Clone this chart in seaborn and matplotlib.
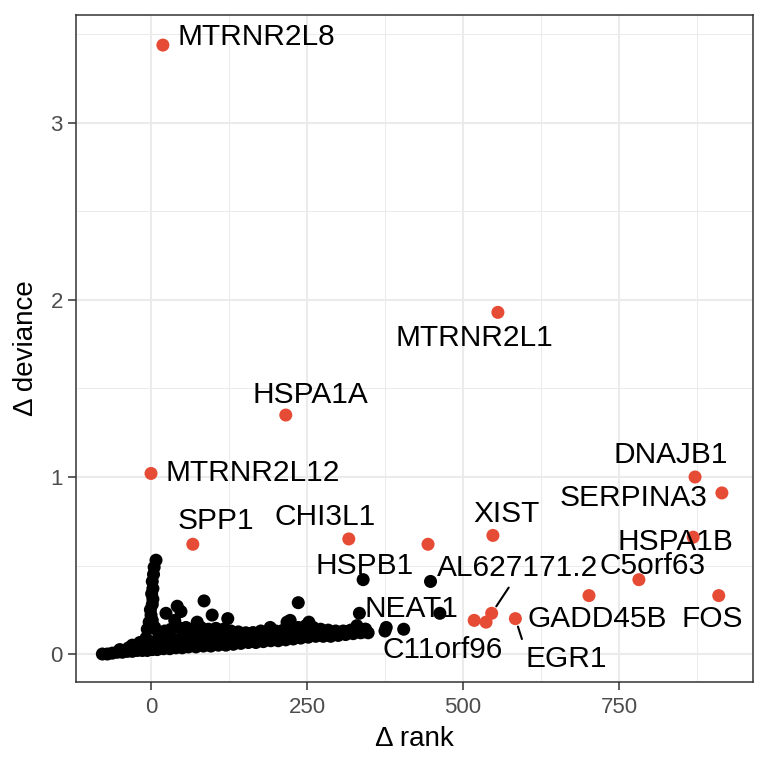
import numpy as np
import pandas as pd
import matplotlib
matplotlib.use('Agg')
import matplotlib.pyplot as plt
import matplotlib.ticker as mticker
import seaborn as sns

# --- data: background genes (black cloud) ---
row_a_x = [-78, -70, -62, -54, -46, -38, -30, -22, -14, -6, 2, 10, 20, 30, 40, 50, 60, 72, 84, 96,
           108, 120, 132, 144, 156, 168, 180, 192, 204, 216, 228, 240, 252, 264, 276, 288, 300, 312,
           324, 336, 348]
row_a_y = [0.00, 0.00, 0.005, 0.01, 0.01, 0.015, 0.015, 0.02, 0.02, 0.02, 0.025, 0.025, 0.03, 0.03,
           0.035, 0.035, 0.04, 0.04, 0.045, 0.045, 0.05, 0.05, 0.055, 0.06, 0.065, 0.065, 0.07, 0.075,
           0.075, 0.08, 0.085, 0.09, 0.095, 0.10, 0.10, 0.10, 0.105, 0.11, 0.115, 0.12, 0.12]

row_b_x = [-50, -36, -22, -8, 6, 20, 34, 48, 62, 76, 90, 104, 118, 132, 146, 160, 174, 188, 202, 216,
           230, 244, 258, 272, 286, 300, 314, 328]
row_b_y = [0.025, 0.035, 0.05, 0.06, 0.07, 0.08, 0.085, 0.09, 0.09, 0.09, 0.09, 0.09, 0.09, 0.09,
           0.095, 0.095, 0.10, 0.10, 0.105, 0.11, 0.115, 0.125, 0.13, 0.125, 0.12, 0.12, 0.125, 0.13]

row_c_x = [-30, -18, -8, 12, 22, 32, 44, 56, 68, 80, 92, 104, 116, 128, 140, 152, 164, 176, 188, 200,
           212, 224, 236, 248, 260, 272, 284, 296, 308, 320, 332, 344]
row_c_y = [0.05, 0.065, 0.09, 0.12, 0.13, 0.14, 0.15, 0.15, 0.14, 0.15, 0.14, 0.145, 0.14, 0.13, 0.125,
           0.12, 0.12, 0.13, 0.13, 0.13, 0.135, 0.14, 0.15, 0.16, 0.15, 0.14, 0.135, 0.13, 0.13, 0.135,
           0.14, 0.14]

row_d_x = [-20, -5, 10, 25, 40, 55, 70, 85, 100, 115, 130, 145, 160, 175, 190, 205, 220, 235, 250, 265,
           280, 295, 310, 325, 340]
row_d_y = [0.035, 0.045, 0.05, 0.055, 0.06, 0.06, 0.065, 0.065, 0.07, 0.07, 0.075, 0.08, 0.085, 0.09,
           0.09, 0.095, 0.10, 0.105, 0.11, 0.115, 0.11, 0.11, 0.115, 0.12, 0.125]

spike_x = [-6, 6, -3, 2, 0, -1, 2, 3, 1, 3, 2, 4, 5, 8]
spike_y = [0.14, 0.15, 0.18, 0.19, 0.22, 0.25, 0.28, 0.31, 0.34, 0.37, 0.41, 0.45, 0.49, 0.53]

out_x = [85, 42, 48, 24, 38, 98, 74, 123, 163, 191, 218, 236, 223, 253, 330, 343, 375, 377, 405, 340,
         448, 334, 463]
out_y = [0.30, 0.27, 0.24, 0.23, 0.19, 0.22, 0.18, 0.20, 0.12, 0.15, 0.18, 0.29, 0.19, 0.18, 0.16,
         0.14, 0.13, 0.15, 0.14, 0.42, 0.41, 0.23, 0.23]

# --- highlighted genes (red) ---
red_x = [19, 556, 216, 0, 67, 317, 444, 548, 518, 537, 546, 584, 702, 782, 869, 872, 915, 910]
red_y = [3.44, 1.93, 1.35, 1.02, 0.62, 0.65, 0.62, 0.67, 0.19, 0.18, 0.23, 0.20, 0.33, 0.42, 0.66,
         1.00, 0.91, 0.33]

# --- gene labels and where the repel step put them ---
lab_names = ['MTRNR2L8', 'MTRNR2L1', 'HSPA1A', 'MTRNR2L12', 'SPP1', 'CHI3L1', 'HSPB1', 'NEAT1',
             'C11orf96', 'AL627171.2', 'XIST', 'GADD45B', 'EGR1', 'FOS', 'C5orf63', 'HSPA1B',
             'SERPINA3', 'DNAJB1']
lab_x = [168, 519, 255, 163, 104, 279, 343, 418, 468, 587, 569, 716, 665, 899, 804, 841, 774, 833]
lab_y = [3.486, 1.785, 1.463, 1.023, 0.751, 0.774, 0.497, 0.254, 0.023, 0.486, 0.791, 0.198, -0.028,
         0.198, 0.497, 0.633, 0.881, 1.124]

# labels joined to their point by a segment: name -> (point x, point y, anchor on text box)
seg_labels = {'AL627171.2': (546, 0.23, (0.47, 0.0)),
              'EGR1': (584, 0.20, (0.0, 0.85))}

black_x = row_a_x + row_b_x + row_c_x + row_d_x + spike_x + out_x
black_y = row_a_y + row_b_y + row_c_y + row_d_y + spike_y + out_y

df = pd.DataFrame({
    'drank': black_x + red_x,
    'ddev': black_y + red_y,
    'group': ['other'] * len(black_x) + ['top'] * len(red_x),
})

# --- theme (ggplot theme_bw look) ---
sns.set_theme(style='white')
plt.rcParams['font.family'] = ['Liberation Sans', 'DejaVu Sans']

fig = plt.figure(figsize=(7.68, 7.68), dpi=100)
ax = fig.add_axes([0.099, 0.112, 0.881, 0.8685])

sns.scatterplot(data=df, x='drank', y='ddev', hue='group',
                palette={'other': 'black', 'top': '#E64B35'},
                s=88, linewidth=0, legend=False, ax=ax, zorder=3)

ax.set_xlim(-120.2, 964.3)
ax.set_ylim(-0.158, 3.61)
ax.xaxis.set_major_locator(mticker.FixedLocator([0, 250, 500, 750]))
ax.xaxis.set_minor_locator(mticker.MultipleLocator(125))
ax.yaxis.set_major_locator(mticker.FixedLocator([0, 1, 2, 3]))
ax.yaxis.set_minor_locator(mticker.MultipleLocator(0.5))
ax.grid(which='major', color='#EBEBEB', linewidth=1.45)
ax.grid(which='minor', color='#EBEBEB', linewidth=0.75)
ax.set_axisbelow(True)

for sp in ax.spines.values():
    sp.set_color('#333333')
    sp.set_linewidth(1.1)

ax.tick_params(which='major', direction='out', length=5.5, width=1.1, color='#333333',
               labelsize=16, labelcolor='#4D4D4D', bottom=True, left=True)
ax.tick_params(axis='x', pad=5)
ax.tick_params(axis='y', pad=4)
ax.tick_params(which='minor', length=0)

ax.set_xlabel('Δ rank', fontsize=20, color='black', labelpad=6)
ax.set_ylabel('Δ deviance', fontsize=20, color='black', labelpad=8)

for name, tx, ty in zip(lab_names, lab_x, lab_y):
    if name in seg_labels:
        px, py, rel = seg_labels[name]
        ax.annotate(name, xy=(px, py), xytext=(tx, ty), ha='center', va='center',
                    fontsize=21.5, color='black', zorder=4,
                    arrowprops=dict(arrowstyle='-', color='black', lw=1.5,
                                    relpos=rel, shrinkA=2, shrinkB=6))
    else:
        ax.text(tx, ty, name, ha='center', va='center', fontsize=21.5, color='black', zorder=4)

fig.savefig('out.png', dpi=100, facecolor='white')
